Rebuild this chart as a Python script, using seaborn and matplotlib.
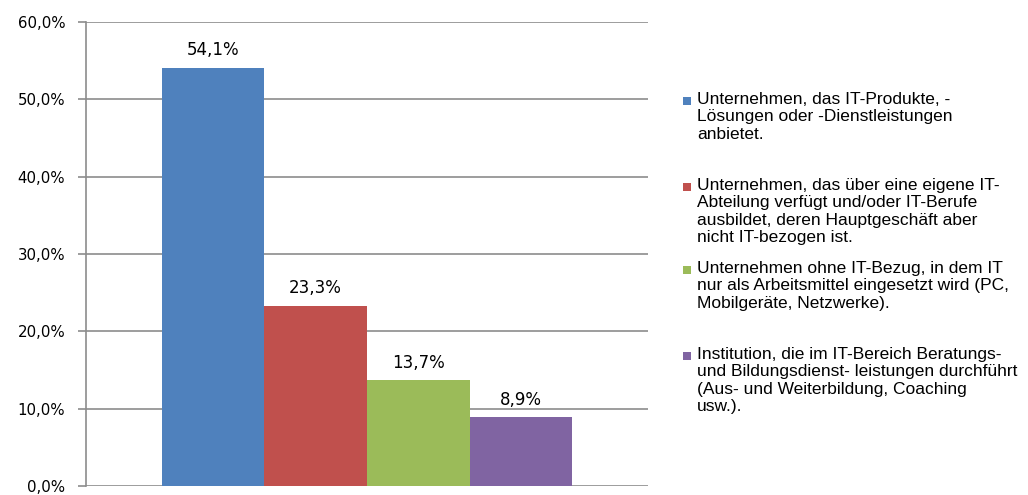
import matplotlib
matplotlib.use("Agg")
import matplotlib.pyplot as plt
import seaborn as sns
import pandas as pd
from matplotlib.ticker import FuncFormatter, MultipleLocator
from matplotlib.patches import Rectangle

categories = [
    "Unternehmen, das IT-Produkte, -\nLösungen oder -Dienstleistungen\nanbietet.",
    "Unternehmen, das über eine eigene IT-\nAbteilung verfügt und/oder IT-Berufe\nausbildet, deren Hauptgeschäft aber\nnicht IT-bezogen ist.",
    "Unternehmen ohne IT-Bezug, in dem IT\nnur als Arbeitsmittel eingesetzt wird (PC,\nMobilgeräte, Netzwerke).",
    "Institution, die im IT-Bereich Beratungs-\nund Bildungsdienst- leistungen durchführt\n(Aus- und Weiterbildung, Coaching\nusw.).",
]
values = [54.1, 23.3, 13.7, 8.9]
colors = ["#4F81BD", "#C0504D", "#9BBB59", "#8064A2"]

df = pd.DataFrame({"group": ["Alle"] * len(values), "cat": categories, "value": values})

sns.set_style("white")
plt.rcParams["font.family"] = ["DejaVu Sans"]

W, H = 1028, 495
fig = plt.figure(figsize=(W / 100, H / 100), dpi=100)
ax = fig.add_axes([86 / W, 1 - 486 / H, (648 - 86) / W, (486 - 22) / H])

sns.barplot(data=df, x="group", y="value", hue="cat", hue_order=categories,
            palette=colors, width=0.731, saturation=1, legend=False, ax=ax,
            errorbar=None, linewidth=0, edgecolor="none", zorder=3)

ax.set_ylim(0, 60)
ax.set_xlim(-0.5, 0.5)
ax.yaxis.set_major_locator(MultipleLocator(10))
ax.yaxis.set_major_formatter(FuncFormatter(lambda v, p: f"{v:.1f}%".replace(".", ",")))
ax.grid(axis="y", color="#8c8c8c", linewidth=1.2, zorder=0)
ax.set_axisbelow(True)
ax.set_xlabel("")
ax.set_ylabel("")
ax.set_xticks([])
for s in ["top", "right", "bottom"]:
    ax.spines[s].set_visible(False)
ax.spines["left"].set_color("#8c8c8c")
ax.spines["left"].set_linewidth(1.2)
ax.tick_params(axis="y", which="major", left=True, length=6, width=1.2,
               color="#8c8c8c", pad=9, labelsize=10.8, labelcolor="#000000")

for cont in ax.containers:
    labels = [f"{v:.1f}%".replace(".", ",") for v in cont.datavalues]
    ax.bar_label(cont, labels=labels, padding=6, fontsize=12, color="#000000")

# Legend drawn manually to mimic the equally spaced Excel legend
entry_y = [101, 187, 270, 356]
for lab, col, yc in zip(categories, colors, entry_y):
    fig.patches.append(Rectangle((683 / W, 1 - (yc + 4) / H), 8 / W, 8 / H,
                                 transform=fig.transFigure, facecolor=col,
                                 edgecolor="none"))
    fig.text(697 / W, 1 - (yc - 9) / H, lab, ha="left", va="top",
             fontsize=12.5, family=["Liberation Sans"], linespacing=1.2,
             color="#000000")

fig.savefig("out.png", dpi=100)
